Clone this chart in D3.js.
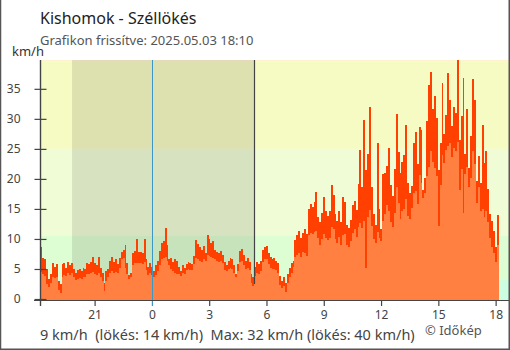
<!DOCTYPE html>
<html>
<head>
<meta charset="utf-8">
<script src="https://cdn.jsdelivr.net/npm/d3@7/dist/d3.min.js"></script>
<style>
  html, body { margin: 0; padding: 0; background: #fff; }
  svg { display: block; font-family: "Noto Sans", "Open Sans", sans-serif; }
</style>
</head>
<body>
<svg id="chart" width="510" height="350"></svg>
<script>
// Station and labels
const stationName = "Kishomok - Széllökés";
const updatedText = "Grafikon frissítve: 2025.05.03 18:10";
const unitLabel = "km/h";
const summaryText = "9 km/h  (lökés: 14 km/h)  Max: 32 km/h (lökés: 40 km/h)";
const creditText = "© Időkép";

// Measurement series: one value every 6 minutes from 2025-05-02 18:10 to 2025-05-03 18:10
const seriesStart = new Date(2025, 4, 2, 18, 10);
const stepMinutes = 6;
const gust = [
  8.7, 6.8, 6.6, 5.0, 3.4, 4.2, 6.0, 5.4, 5.8, 3.0,
  2.5, 5.8, 6.0, 5.2, 6.2, 5.6, 6.0, 5.0, 4.4, 4.8,
  5.0, 4.6, 5.2, 5.0, 6.0, 5.8, 6.2, 7.0, 6.0, 5.6,
  7.0, 5.2, 4.4, 2.6, 4.6, 5.0, 6.4, 7.0, 6.2, 6.6,
  5.8, 6.8, 7.8, 8.2, 9.0, 6.0, 4.0, 4.4, 7.6, 8.0,
  10.0, 7.8, 7.8, 7.6, 10.0, 6.6, 5.4, 6.0, 5.4, 4.6,
  5.6, 6.4, 8.0, 9.4, 9.6, 11.8, 9.0, 6.6, 6.8, 6.2,
  6.6, 6.4, 5.4, 4.6, 5.6, 5.2, 5.8, 6.2, 6.0, 5.8,
  7.2, 9.8, 9.2, 8.6, 8.2, 8.8, 7.6, 10.6, 10.0, 9.4,
  9.6, 8.2, 7.8, 7.6, 8.0, 7.4, 6.2, 5.6, 6.4, 6.8,
  6.6, 5.6, 4.2, 5.8, 8.0, 8.4, 7.4, 6.4, 6.8, 6.2,
  4.2, 3.6, 5.4, 6.2, 5.8, 6.4, 8.2, 8.6, 8.8, 7.6,
  7.0, 6.6, 6.8, 6.4, 6.0, 3.8, 3.0, 3.6, 2.6, 4.2,
  5.2, 6.0, 6.4, 9.8, 10.6, 11.4, 10.2, 11.0, 11.6, 10.8,
  15.0, 15.8, 15.4, 16.2, 17.8, 13.6, 12.8, 14.4, 17.0, 14.6,
  13.8, 14.6, 19.0, 17.4, 14.2, 13.0, 14.6, 12.8, 17.0, 16.2,
  12.4, 11.8, 13.2, 15.6, 16.4, 14.8, 19.2, 24.8, 18.6, 29.8,
  21.4, 24.2, 32.0, 18.6, 14.2, 12.4, 26.0, 15.0, 11.6, 20.8,
  21.0, 22.2, 25.2, 19.0, 17.2, 21.6, 30.8, 24.4, 21.0, 22.8,
  24.0, 29.0, 19.4, 17.6, 18.8, 26.0, 27.8, 22.4, 28.6, 28.2,
  18.2, 20.2, 29.6, 35.6, 37.8, 31.6, 33.8, 30.2, 21.4, 26.0,
  36.0, 27.4, 30.6, 37.6, 33.2, 28.8, 32.0, 31.0, 40.0, 26.4,
  30.4, 36.8, 24.2, 31.6, 21.8, 27.2, 36.6, 33.2, 19.6, 23.8,
  19.4, 29.0, 22.6, 24.6, 18.4, 14.2, 13.0, 11.4, 8.6, 14.0
];
const speed = [
  4.5, 4.2, 3.8, 2.5, 2.0, 2.6, 3.6, 3.5, 3.6, 1.5,
  1.0, 3.6, 4.0, 3.8, 4.3, 4.0, 4.3, 3.6, 3.2, 3.4,
  3.5, 3.3, 3.6, 3.6, 4.2, 4.2, 4.3, 4.5, 4.2, 4.0,
  4.3, 3.6, 3.0, 1.4, 3.0, 3.6, 4.4, 4.6, 4.3, 4.5,
  4.4, 5.2, 6.6, 6.8, 5.2, 4.2, 3.4, 3.6, 5.6, 6.0,
  6.0, 6.0, 6.0, 5.8, 6.2, 4.8, 4.0, 4.4, 4.0, 3.6,
  4.0, 4.6, 5.6, 6.6, 6.8, 7.0, 6.4, 5.6, 5.0, 4.6,
  4.4, 4.2, 4.2, 3.8, 4.4, 4.2, 4.8, 5.0, 4.8, 4.8,
  5.8, 6.8, 6.6, 6.4, 6.2, 6.6, 6.4, 7.4, 7.2, 7.0,
  6.8, 6.6, 6.4, 6.2, 6.4, 6.0, 4.8, 4.6, 5.0, 5.2,
  5.0, 4.4, 3.6, 4.6, 6.2, 6.4, 5.6, 5.0, 5.2, 4.8,
  2.6, 2.2, 3.8, 4.4, 4.2, 4.6, 6.2, 6.6, 6.6, 5.8,
  5.2, 5.0, 5.0, 4.8, 4.4, 2.4, 1.8, 2.2, 1.2, 2.6,
  3.6, 4.4, 5.4, 7.0, 7.4, 7.6, 7.0, 7.8, 7.6, 7.2,
  10.6, 11.0, 10.8, 11.2, 11.4, 10.2, 9.0, 10.0, 10.8, 10.2,
  9.8, 10.2, 12.0, 11.6, 10.0, 9.4, 10.4, 9.0, 10.6, 10.8,
  9.0, 8.6, 9.6, 11.0, 11.6, 10.4, 12.0, 12.6, 11.8, 13.0,
  5.2, 13.6, 14.8, 12.2, 10.0, 9.4, 11.2, 10.2, 9.6, 13.0,
  14.2, 15.6, 14.6, 12.8, 12.0, 14.4, 18.6, 16.0, 13.4, 14.6,
  15.0, 16.6, 13.8, 13.4, 15.2, 17.6, 18.0, 15.8, 20.6, 19.4,
  16.8, 17.6, 20.4, 22.0, 24.6, 22.8, 21.8, 20.4, 12.2, 19.0,
  24.0, 22.6, 24.8, 25.4, 26.0, 23.6, 25.2, 24.6, 26.2, 18.2,
  21.6, 14.4, 20.8, 22.0, 18.6, 20.2, 24.6, 22.4, 16.0, 18.6,
  14.6, 15.0, 13.6, 14.6, 12.8, 10.2, 8.6, 7.6, 6.2, 9.0
];

// Background wind bands (km/h) and their fills
const bandEdges = [0, 3.3, 10.5, 25, 39.6, 39.8];
const bandColors = ["#ccfde0", "#ddfdd2", "#f0fcd6", "#f6fbc3", "#fff3cf"];

// Axis ticks
const yTicks = [0, 5, 10, 15, 20, 25, 30, 35];
const xTickHours = [[2, 21], [3, 0], [3, 3], [3, 6], [3, 9], [3, 12], [3, 15], [3, 18]];

// Night (sunset to sunrise) and midnight marker
const sunset = new Date(2025, 4, 2, 19, 49);
const sunrise = new Date(2025, 4, 3, 5, 22);
const midnight = new Date(2025, 4, 3, 0, 0);

const svg = d3.select("#chart");
const W = 510, H = 350;
const plot = { left: 40.5, right: 509, top: 60, bottom: 299 };

const times = gust.map((_, i) => new Date(seriesStart.getTime() + i * stepMinutes * 60000));
const seriesEnd = new Date(seriesStart.getTime() + gust.length * stepMinutes * 60000);
const rows = times.map((t, i) => ({ t, g: gust[i], s: speed[i] }));
rows.push({ t: seriesEnd, g: gust[gust.length - 1], s: speed[speed.length - 1] });

const x = d3.scaleTime()
  .domain([seriesStart, new Date(2025, 4, 3, 18, 42)])
  .range([plot.left, plot.right]);
const y = d3.scaleLinear().domain([0, 39.8]).range([plot.bottom, plot.top]);

svg.append("defs").append("clipPath").attr("id", "plotClip")
  .append("rect").attr("x", plot.left).attr("y", plot.top)
  .attr("width", plot.right - plot.left).attr("height", plot.bottom - plot.top + 1);

// Bands
const bands = svg.append("g").attr("clip-path", "url(#plotClip)");
bandColors.forEach((c, i) => {
  bands.append("rect")
    .attr("x", plot.left).attr("width", plot.right - plot.left)
    .attr("y", y(bandEdges[i + 1])).attr("height", y(bandEdges[i]) - y(bandEdges[i + 1]) + (i === 0 ? 1 : 0))
    .attr("fill", c);
});

// Night shading
bands.append("rect")
  .attr("x", x(sunset)).attr("width", x(sunrise) - x(sunset))
  .attr("y", plot.top).attr("height", plot.bottom - plot.top + 1)
  .attr("fill", "rgba(0,0,0,0.1)");

// Wind areas
const marks = svg.append("g").attr("clip-path", "url(#plotClip)");
const gustArea = d3.area().curve(d3.curveStepAfter)
  .x(d => x(d.t)).y0(y(0) + 1).y1(d => y(d.g));
const speedArea = d3.area().curve(d3.curveStepAfter)
  .x(d => x(d.t)).y0(y(0) + 1).y1(d => y(d.s));
marks.append("path").datum(rows).attr("d", gustArea).attr("fill", "#ff4000").attr("shape-rendering", "crispEdges");
marks.append("path").datum(rows).attr("d", speedArea).attr("fill", "#ff8040").attr("shape-rendering", "crispEdges");

// Midnight and sunrise markers
svg.append("line")
  .attr("x1", Math.round(x(midnight)) + 0.5).attr("x2", Math.round(x(midnight)) + 0.5)
  .attr("y1", plot.top).attr("y2", plot.bottom + 7)
  .attr("stroke", "#3d96c8").attr("stroke-width", 1);
svg.append("line")
  .attr("x1", Math.round(x(sunrise)) + 0.5).attr("x2", Math.round(x(sunrise)) + 0.5)
  .attr("y1", plot.top).attr("y2", y(2.5))
  .attr("stroke", "#444").attr("stroke-width", 1.2);

// Axes
const axisColor = "#444";
const yAxis = d3.axisLeft(y).tickValues(yTicks).tickSize(6).tickPadding(14);
const gy = svg.append("g").attr("transform", `translate(${plot.left},0)`).call(yAxis);
gy.select(".domain").remove();
gy.selectAll(".tick line").attr("x1", 6).attr("stroke", axisColor).attr("stroke-width", 1.2);
gy.selectAll(".tick text").attr("fill", "#444").attr("font-size", 12).attr("font-family", "Noto Sans");

const xTickDates = xTickHours.map(([day, h]) => new Date(2025, 4, day, h, 0));
const xAxis = d3.axisBottom(x).tickValues(xTickDates).tickFormat(d3.timeFormat("%-H"))
  .tickSize(6).tickSizeOuter(0).tickPadding(4);
const gx = svg.append("g").attr("transform", `translate(0,${plot.bottom + 1})`).call(xAxis);
gx.select(".domain").remove();
gx.selectAll(".tick line").attr("stroke", axisColor).attr("stroke-width", 1.2);
gx.selectAll(".tick").filter(d => +d === +midnight).select("line").attr("stroke", "#3d96c8");
gx.selectAll(".tick text").attr("fill", "#444").attr("font-size", 12).attr("font-family", "Noto Sans");

svg.append("line").attr("x1", 34).attr("x2", W).attr("y1", plot.bottom + 1.5).attr("y2", plot.bottom + 1.5)
  .attr("stroke", axisColor).attr("stroke-width", 1.2);
svg.append("line").attr("x1", plot.left).attr("x2", plot.left).attr("y1", plot.top).attr("y2", plot.bottom + 7)
  .attr("stroke", axisColor).attr("stroke-width", 1.4);

// Frame
svg.append("path").attr("d", `M0.5,0 V${H - 0.75} H${W - 0.75} V0`)
  .attr("fill", "none").attr("stroke", "#555").attr("stroke-width", 1.5);

// Texts
svg.append("text").attr("x", 40).attr("y", 24).attr("font-size", 16).attr("fill", "#222").text(stationName);
svg.append("text").attr("x", 40).attr("y", 45).attr("font-size", 13).attr("fill", "#555").text(updatedText);
svg.append("text").attr("x", 12).attr("y", 56).attr("font-size", 13).attr("fill", "#333").text(unitLabel);
svg.append("text").attr("x", 40).attr("y", 340).attr("font-size", 14.5).attr("fill", "#444")
  .style("white-space", "pre").text(summaryText);
svg.append("text").attr("x", 425).attr("y", 335).attr("font-size", 13).attr("fill", "#555").text(creditText);
</script>
</body>
</html>
